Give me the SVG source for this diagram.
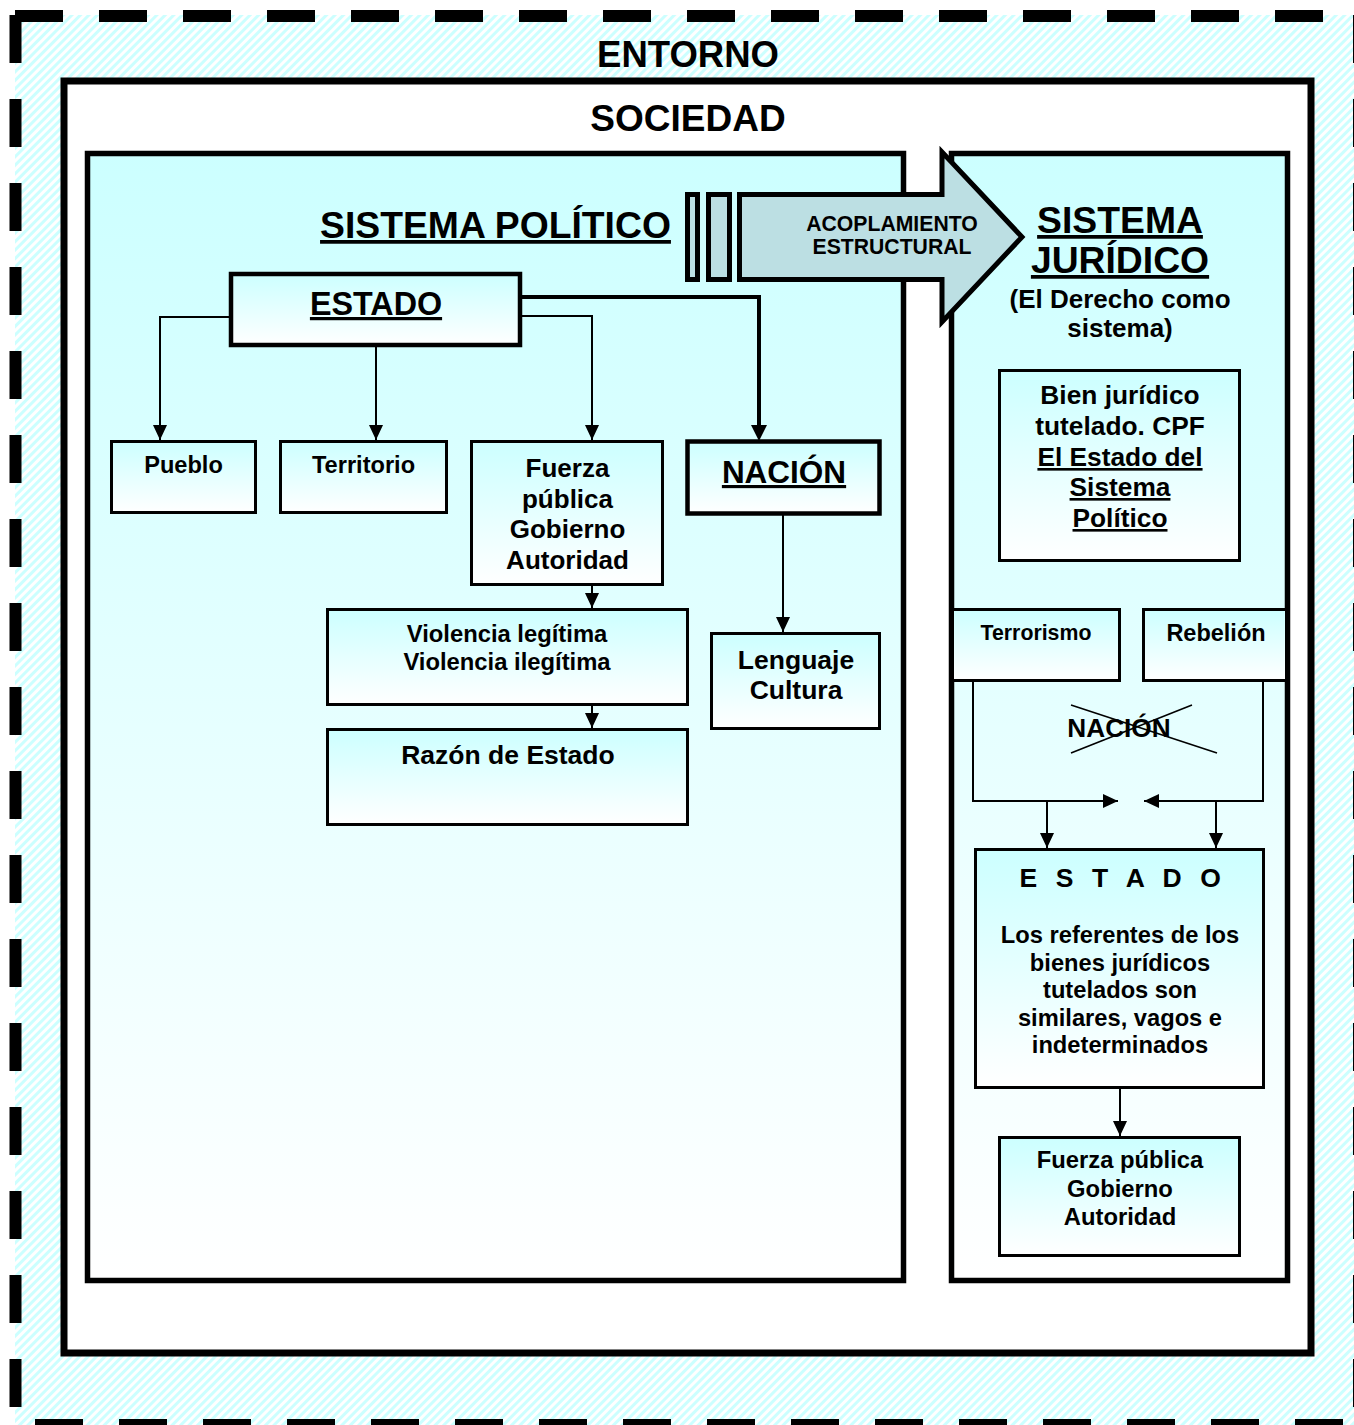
<svg xmlns="http://www.w3.org/2000/svg" width="1354" height="1425" viewBox="0 0 1354 1425">
  <style>
    .t { font-family: "Liberation Sans", Arial, Helvetica, sans-serif; font-weight: bold; fill: #000; text-anchor: middle; }
    .u { text-decoration: underline; }
    .frame { stroke: #000; stroke-linejoin: miter; }
    .box { fill: url(#fade); stroke: #000; stroke-width: 3; }
    .box-thick { fill: url(#fade); stroke: #000; stroke-width: 4.5; }
    .link { fill: none; stroke: #000; stroke-width: 2; marker-end: url(#tip); }
    .link-thick { fill: none; stroke: #000; stroke-width: 4; marker-end: url(#tip-thick); }
    .dash { fill: none; stroke: #000; stroke-width: 12; stroke-dasharray: 48 36; }
  </style>
  <defs>
    <pattern id="hatch" width="6" height="6" patternUnits="userSpaceOnUse" patternTransform="rotate(45)">
      <rect width="6" height="6" fill="#FFFFFF"/>
      <rect width="3" height="6" fill="#CCFFFF"/>
    </pattern>
    <linearGradient id="fade" x1="0" y1="0" x2="0" y2="1">
      <stop offset="0" stop-color="#CCFFFF"/>
      <stop offset="1" stop-color="#FFFFFF"/>
    </linearGradient>
    <marker id="tip" markerUnits="userSpaceOnUse" markerWidth="16" markerHeight="16" refX="15" refY="7" orient="auto">
      <path d="M0,0 L15,7 L0,14 z" fill="#000"/>
    </marker>
    <marker id="tip-thick" markerUnits="userSpaceOnUse" markerWidth="18" markerHeight="18" refX="11" refY="8" orient="auto">
      <path d="M0,0 L16,8 L0,16 z" fill="#000"/>
    </marker>
  </defs>

  <!-- page background and hatched environment -->
  <rect x="0" y="0" width="1354" height="1425" fill="#FFFFFF"/>
  <rect x="15" y="15" width="1339" height="1410" fill="url(#hatch)"/>

  <!-- society frame -->
  <g id="sociedad">
    <rect class="frame" x="64" y="81" width="1247" height="1272" fill="#FFFFFF" stroke-width="7"/>
    <text class="t" x="688" y="131" font-size="37">SOCIEDAD</text>
  </g>
  <g id="entorno-label">
    <text class="t" x="688" y="67" font-size="36.5">ENTORNO</text>
  </g>

  <!-- political system frame -->
  <g id="sistema-politico">
    <rect class="frame" x="87.5" y="153.5" width="816" height="1127" fill="url(#fade)" stroke-width="5.5"/>
    <text class="t u" x="495.5" y="238" font-size="37.3">SISTEMA POLÍTICO</text>
  </g>

  <!-- legal system frame -->
  <g id="sistema-juridico">
    <rect class="frame" x="951.5" y="153.5" width="336" height="1127" fill="url(#fade)" stroke-width="5.5"/>
    <text class="t u" x="1120" y="233" font-size="37.3">SISTEMA</text>
    <text class="t u" x="1120" y="273" font-size="37.3">JURÍDICO</text>
    <text class="t" x="1120" y="308" font-size="26">(El Derecho como</text>
    <text class="t" x="1120" y="337" font-size="26">sistema)</text>
  </g>

  <!-- left-hand nodes -->
  <g id="estado">
    <rect class="box-thick" x="231" y="274" width="289" height="71"/>
    <text class="t u" x="376" y="315" font-size="32.3">ESTADO</text>
  </g>
  <g id="pueblo">
    <rect class="box" x="111.5" y="441.5" width="144" height="71"/>
    <text class="t" x="183.5" y="473" font-size="23.6">Pueblo</text>
  </g>
  <g id="territorio">
    <rect class="box" x="280.5" y="441.5" width="166" height="71"/>
    <text class="t" x="363.5" y="473" font-size="23.6">Territorio</text>
  </g>
  <g id="fuerza-publica">
    <rect class="box" x="471.5" y="441.5" width="191" height="143"/>
    <text class="t" x="567.5" y="477" font-size="26">Fuerza</text>
    <text class="t" x="567.5" y="508" font-size="26">pública</text>
    <text class="t" x="567.5" y="538" font-size="26">Gobierno</text>
    <text class="t" x="567.5" y="569" font-size="26">Autoridad</text>
  </g>
  <g id="nacion">
    <rect class="box-thick" x="687.5" y="441.5" width="192" height="72"/>
    <text class="t u" x="784" y="483" font-size="31.5">NACIÓN</text>
  </g>
  <g id="violencia">
    <rect class="box" x="327.5" y="609.5" width="360" height="95"/>
    <text class="t" x="507" y="642" font-size="23.8">Violencia legítima</text>
    <text class="t" x="507" y="670" font-size="23.8">Violencia ilegítima</text>
  </g>
  <g id="razon-de-estado">
    <rect class="box" x="327.5" y="729.5" width="360" height="95"/>
    <text class="t" x="508" y="764" font-size="26.5">Razón de Estado</text>
  </g>
  <g id="lenguaje-cultura">
    <rect class="box" x="711.5" y="633.5" width="168" height="95"/>
    <text class="t" x="796" y="669" font-size="26.5">Lenguaje</text>
    <text class="t" x="796" y="699" font-size="26.5">Cultura</text>
  </g>

  <!-- right-hand nodes -->
  <g id="bien-juridico">
    <rect class="box" x="999.5" y="370.5" width="240" height="190"/>
    <text class="t" x="1120" y="404" font-size="26.3">Bien jurídico</text>
    <text class="t" x="1120" y="435" font-size="26.3">tutelado. CPF</text>
    <text class="t u" x="1120" y="466" font-size="26.3">El Estado del</text>
    <text class="t u" x="1120" y="496" font-size="26.3">Sistema</text>
    <text class="t u" x="1120" y="527" font-size="26.3">Político</text>
  </g>
  <g id="terrorismo">
    <rect class="box" x="952.5" y="609.5" width="167" height="71"/>
    <text class="t" x="1036" y="640" font-size="21.3">Terrorismo</text>
  </g>
  <g id="rebelion">
    <rect class="box" x="1143.5" y="609.5" width="143" height="71"/>
    <text class="t" x="1216" y="641" font-size="23.5">Rebelión</text>
  </g>
  <g id="nacion-tachada">
    <text class="t" x="1119" y="737" font-size="26.2">NACIÓN</text>
    <line x1="1071" y1="705" x2="1217" y2="753" stroke="#000" stroke-width="1.6"/>
    <line x1="1071" y1="753" x2="1192" y2="705" stroke="#000" stroke-width="1.6"/>
  </g>
  <g id="estado-juridico">
    <rect class="box" x="975.5" y="849.5" width="288" height="238"/>
    <text class="t" x="1123" y="887" font-size="26.5" letter-spacing="5.6">E S T A D O</text>
    <text class="t" x="1120" y="943" font-size="23.7">Los referentes de los</text>
    <text class="t" x="1120" y="971" font-size="23.7">bienes jurídicos</text>
    <text class="t" x="1120" y="998" font-size="23.7">tutelados son</text>
    <text class="t" x="1120" y="1026" font-size="23.7">similares, vagos e</text>
    <text class="t" x="1120" y="1053" font-size="23.7">indeterminados</text>
  </g>
  <g id="fuerza-publica-juridica">
    <rect class="box" x="999.5" y="1137.5" width="240" height="118"/>
    <text class="t" x="1120" y="1168" font-size="23.8">Fuerza pública</text>
    <text class="t" x="1120" y="1197" font-size="23.8">Gobierno</text>
    <text class="t" x="1120" y="1225" font-size="23.8">Autoridad</text>
  </g>

  <!-- connectors -->
  <g id="connectors">
    <path class="link" d="M231,317 H160 V440"/>
    <path class="link" d="M376,345 V440"/>
    <path class="link" d="M520,316 H592 V440"/>
    <path class="link-thick" d="M520,297 H759 V436"/>
    <path class="link" d="M592,585 V608"/>
    <path class="link" d="M592,705 V728"/>
    <path class="link" d="M783,514 V632"/>
    <path class="link" d="M973,681 V801 H1118"/>
    <path class="link" d="M1263,681 V801 H1144"/>
    <path class="link" d="M1047,801 V848"/>
    <path class="link" d="M1216,801 V848"/>
    <path class="link" d="M1120,1088 V1136"/>
  </g>

  <!-- structural coupling arrow -->
  <g id="acoplamiento">
    <rect x="687.5" y="194.5" width="10" height="85" fill="#BCDFE3" stroke="#000" stroke-width="5"/>
    <rect x="708.5" y="194.5" width="21" height="85" fill="#BCDFE3" stroke="#000" stroke-width="5"/>
    <polygon points="739.5,194.5 942,194.5 942,152 1022,237 942,322 942,279.5 739.5,279.5" fill="#BCDFE3" stroke="#000" stroke-width="5" stroke-linejoin="miter"/>
    <text class="t" x="892" y="231" font-size="21.2">ACOPLAMIENTO</text>
    <text class="t" x="892" y="254" font-size="21.2">ESTRUCTURAL</text>
  </g>

  <!-- dashed environment border -->
  <g id="entorno-border">
    <line class="dash" x1="15" y1="16" x2="1354" y2="16"/>
    <line class="dash" x1="15.5" y1="15" x2="15.5" y2="1425"/>
    <line class="dash" x1="35" y1="1425" x2="1354" y2="1425"/>
    <line class="dash" x1="1359" y1="15" x2="1359" y2="1425"/>
  </g>
</svg>
